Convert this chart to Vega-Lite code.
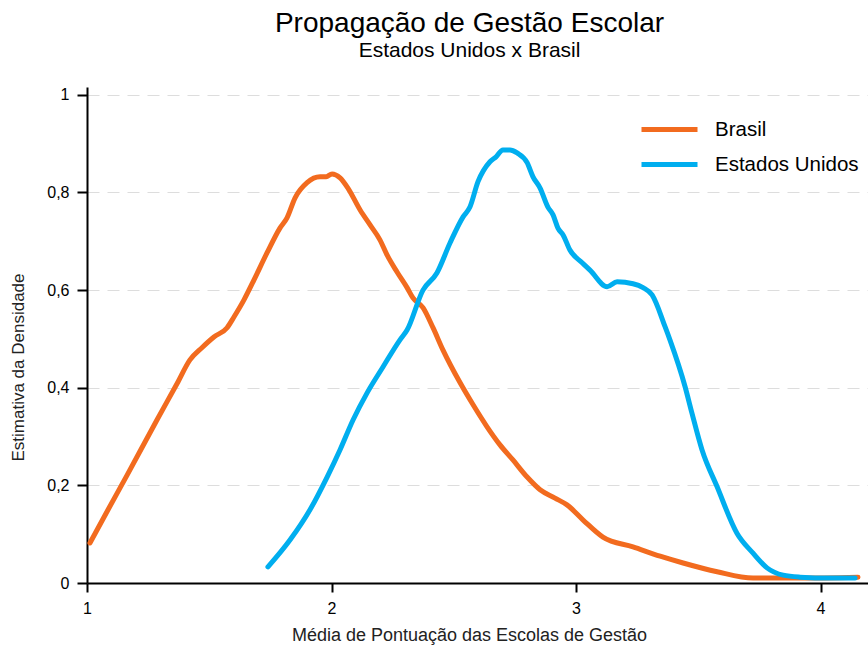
{
  "$schema": "https://vega.github.io/schema/vega-lite/v6.json",
  "width": 781,
  "height": 496,
  "autosize": {"type": "none"},
  "padding": {"left": 87, "top": 87, "right": 0, "bottom": 68},
  "background": "white",
  "config": {
    "view": {"stroke": null},
    "font": "Liberation Sans"
  },
  "title": {
    "text": "Propagação de Gestão Escolar",
    "subtitle": "Estados Unidos x Brasil",
    "fontSize": 28,
    "subtitleFontSize": 21,
    "font": "Liberation Sans",
    "subtitleFont": "Liberation Sans",
    "fontWeight": "normal",
    "color": "black",
    "subtitleColor": "black",
    "anchor": "middle",
    "offset": 26,
    "subtitlePadding": 2,
    "dx": -8
  },
  "datasets": {
    "curvas": [
      {"pais": "Brasil", "x": 1.012, "y": 0.082},
      {"pais": "Brasil", "x": 1.086, "y": 0.150},
      {"pais": "Brasil", "x": 1.164, "y": 0.221},
      {"pais": "Brasil", "x": 1.286, "y": 0.334},
      {"pais": "Brasil", "x": 1.368, "y": 0.408},
      {"pais": "Brasil", "x": 1.421, "y": 0.457},
      {"pais": "Brasil", "x": 1.470, "y": 0.482},
      {"pais": "Brasil", "x": 1.519, "y": 0.504},
      {"pais": "Brasil", "x": 1.573, "y": 0.523},
      {"pais": "Brasil", "x": 1.601, "y": 0.545},
      {"pais": "Brasil", "x": 1.642, "y": 0.580},
      {"pais": "Brasil", "x": 1.683, "y": 0.621},
      {"pais": "Brasil", "x": 1.736, "y": 0.676},
      {"pais": "Brasil", "x": 1.789, "y": 0.727},
      {"pais": "Brasil", "x": 1.818, "y": 0.748},
      {"pais": "Brasil", "x": 1.851, "y": 0.789},
      {"pais": "Brasil", "x": 1.900, "y": 0.820},
      {"pais": "Brasil", "x": 1.953, "y": 0.832},
      {"pais": "Brasil", "x": 1.978, "y": 0.832},
      {"pais": "Brasil", "x": 2.002, "y": 0.838},
      {"pais": "Brasil", "x": 2.035, "y": 0.830},
      {"pais": "Brasil", "x": 2.067, "y": 0.809},
      {"pais": "Brasil", "x": 2.117, "y": 0.764},
      {"pais": "Brasil", "x": 2.157, "y": 0.734},
      {"pais": "Brasil", "x": 2.198, "y": 0.703},
      {"pais": "Brasil", "x": 2.227, "y": 0.672},
      {"pais": "Brasil", "x": 2.268, "y": 0.637},
      {"pais": "Brasil", "x": 2.309, "y": 0.605},
      {"pais": "Brasil", "x": 2.333, "y": 0.584},
      {"pais": "Brasil", "x": 2.374, "y": 0.564},
      {"pais": "Brasil", "x": 2.415, "y": 0.523},
      {"pais": "Brasil", "x": 2.456, "y": 0.477},
      {"pais": "Brasil", "x": 2.526, "y": 0.410},
      {"pais": "Brasil", "x": 2.579, "y": 0.365},
      {"pais": "Brasil", "x": 2.636, "y": 0.320},
      {"pais": "Brasil", "x": 2.689, "y": 0.283},
      {"pais": "Brasil", "x": 2.742, "y": 0.252},
      {"pais": "Brasil", "x": 2.800, "y": 0.217},
      {"pais": "Brasil", "x": 2.853, "y": 0.191},
      {"pais": "Brasil", "x": 2.914, "y": 0.174},
      {"pais": "Brasil", "x": 2.963, "y": 0.160},
      {"pais": "Brasil", "x": 3.029, "y": 0.129},
      {"pais": "Brasil", "x": 3.110, "y": 0.094},
      {"pais": "Brasil", "x": 3.233, "y": 0.074},
      {"pais": "Brasil", "x": 3.344, "y": 0.055},
      {"pais": "Brasil", "x": 3.438, "y": 0.041},
      {"pais": "Brasil", "x": 3.577, "y": 0.023},
      {"pais": "Brasil", "x": 3.724, "y": 0.010},
      {"pais": "Brasil", "x": 3.916, "y": 0.010},
      {"pais": "Brasil", "x": 4.153, "y": 0.012},
      {"pais": "Estados Unidos", "x": 1.740, "y": 0.033},
      {"pais": "Estados Unidos", "x": 1.830, "y": 0.088},
      {"pais": "Estados Unidos", "x": 1.912, "y": 0.150},
      {"pais": "Estados Unidos", "x": 1.982, "y": 0.217},
      {"pais": "Estados Unidos", "x": 2.035, "y": 0.273},
      {"pais": "Estados Unidos", "x": 2.088, "y": 0.334},
      {"pais": "Estados Unidos", "x": 2.145, "y": 0.389},
      {"pais": "Estados Unidos", "x": 2.211, "y": 0.443},
      {"pais": "Estados Unidos", "x": 2.280, "y": 0.498},
      {"pais": "Estados Unidos", "x": 2.309, "y": 0.518},
      {"pais": "Estados Unidos", "x": 2.374, "y": 0.600},
      {"pais": "Estados Unidos", "x": 2.431, "y": 0.635},
      {"pais": "Estados Unidos", "x": 2.485, "y": 0.697},
      {"pais": "Estados Unidos", "x": 2.538, "y": 0.750},
      {"pais": "Estados Unidos", "x": 2.566, "y": 0.770},
      {"pais": "Estados Unidos", "x": 2.599, "y": 0.822},
      {"pais": "Estados Unidos", "x": 2.648, "y": 0.863},
      {"pais": "Estados Unidos", "x": 2.673, "y": 0.873},
      {"pais": "Estados Unidos", "x": 2.701, "y": 0.887},
      {"pais": "Estados Unidos", "x": 2.730, "y": 0.887},
      {"pais": "Estados Unidos", "x": 2.759, "y": 0.881},
      {"pais": "Estados Unidos", "x": 2.800, "y": 0.861},
      {"pais": "Estados Unidos", "x": 2.824, "y": 0.832},
      {"pais": "Estados Unidos", "x": 2.853, "y": 0.809},
      {"pais": "Estados Unidos", "x": 2.885, "y": 0.770},
      {"pais": "Estados Unidos", "x": 2.906, "y": 0.754},
      {"pais": "Estados Unidos", "x": 2.926, "y": 0.727},
      {"pais": "Estados Unidos", "x": 2.947, "y": 0.713},
      {"pais": "Estados Unidos", "x": 2.975, "y": 0.682},
      {"pais": "Estados Unidos", "x": 3.025, "y": 0.656},
      {"pais": "Estados Unidos", "x": 3.057, "y": 0.641},
      {"pais": "Estados Unidos", "x": 3.127, "y": 0.607},
      {"pais": "Estados Unidos", "x": 3.168, "y": 0.617},
      {"pais": "Estados Unidos", "x": 3.233, "y": 0.613},
      {"pais": "Estados Unidos", "x": 3.274, "y": 0.605},
      {"pais": "Estados Unidos", "x": 3.311, "y": 0.590},
      {"pais": "Estados Unidos", "x": 3.364, "y": 0.525},
      {"pais": "Estados Unidos", "x": 3.384, "y": 0.498},
      {"pais": "Estados Unidos", "x": 3.446, "y": 0.402},
      {"pais": "Estados Unidos", "x": 3.474, "y": 0.348},
      {"pais": "Estados Unidos", "x": 3.515, "y": 0.273},
      {"pais": "Estados Unidos", "x": 3.577, "y": 0.197},
      {"pais": "Estados Unidos", "x": 3.658, "y": 0.102},
      {"pais": "Estados Unidos", "x": 3.724, "y": 0.061},
      {"pais": "Estados Unidos", "x": 3.781, "y": 0.031},
      {"pais": "Estados Unidos", "x": 3.847, "y": 0.016},
      {"pais": "Estados Unidos", "x": 3.916, "y": 0.012},
      {"pais": "Estados Unidos", "x": 4.039, "y": 0.010},
      {"pais": "Estados Unidos", "x": 4.141, "y": 0.010}
    ]
  },
  "layer": [
    {
      "data": {"name": "curvas"},
      "mark": {"type": "line", "strokeWidth": 5, "strokeCap": "round", "strokeJoin": "round", "interpolate": "monotone"},
      "encoding": {
        "x": {
          "field": "x",
          "type": "quantitative",
          "scale": {"domain": [1, 4.194], "nice": false, "zero": false},
          "axis": {
            "values": [1, 2, 3, 4],
            "format": "d",
            "title": "Média de Pontuação das Escolas de Gestão",
            "grid": false,
            "domainColor": "black",
            "domainWidth": 2,
            "tickColor": "black",
            "tickWidth": 2,
            "tickSize": 9,
            "labelFontSize": 16,
            "labelColor": "black",
            "labelPadding": 8,
            "labelFlush": false,
            "titleFontSize": 18,
            "titleFontWeight": "normal",
            "titleColor": "#222",
            "titlePadding": 10,
            "titleX": 382
          }
        },
        "y": {
          "field": "y",
          "type": "quantitative",
          "scale": {"domain": [0, 1.016], "nice": false, "zero": false},
          "axis": {
            "values": [0, 0.2, 0.4, 0.6, 0.8, 1],
            "labelExpr": "replace(format(datum.value, '.1~f'), '.', ',')",
            "title": "Estimativa da Densidade",
            "grid": true,
            "gridColor": "#dddddd",
            "gridDash": [12, 8],
            "gridWidth": 1,
            "domainColor": "black",
            "domainWidth": 2,
            "tickColor": "black",
            "tickWidth": 2,
            "tickSize": 10,
            "labelFontSize": 16,
            "labelColor": "black",
            "labelPadding": 8,
            "labelFlush": false,
            "titleFontSize": 17,
            "titleFontWeight": "normal",
            "titleColor": "#222",
            "titlePadding": 19,
            "titleY": 280
          }
        },
        "color": {
          "field": "pais",
          "type": "nominal",
          "scale": {"domain": ["Brasil", "Estados Unidos"], "range": ["#F26B1F", "#00AEEF"]},
          "legend": {
            "orient": "none",
            "legendX": 566,
            "legendY": 26,
            "title": null,
            "symbolType": "M-2,0H2",
            "symbolStrokeWidth": 5,
            "symbolStrokeCap": "round",
            "symbolSize": 784,
            "labelFontSize": 20.5,
            "labelColor": "black",
            "labelOffset": 29,
            "rowPadding": 8
          }
        }
      }
    },
    {
      "mark": {"type": "rule", "color": "black", "strokeWidth": 2, "clip": false},
      "encoding": {"x": {"datum": 1}, "y": {"datum": -0.015}, "y2": {"datum": 0}}
    },
    {
      "mark": {"type": "rule", "color": "black", "strokeWidth": 2, "clip": false},
      "encoding": {"x": {"datum": 0.955}, "x2": {"datum": 1}, "y": {"datum": 0}}
    }
  ]
}
